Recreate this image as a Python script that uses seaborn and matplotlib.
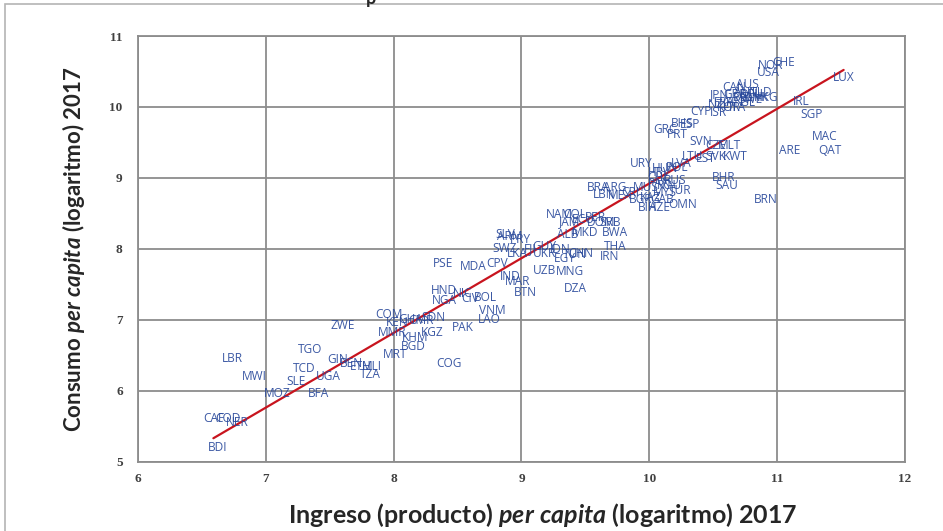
import numpy as np
import pandas as pd
import seaborn as sns
import matplotlib.pyplot as plt
from matplotlib.patches import Rectangle

# country codes, log income per capita, log consumption per capita (2017)
codes = ["CHE", "NOR", "USA", "LUX", "AUS", "CAN", "AUT", "DEU", "NLD", "DNK",
         "SWE", "BEL", "HKG", "JPN", "FIN", "ISL", "FRA", "GBR", "NZL", "KOR",
         "ITA", "IRL", "SGP", "CYP", "ISR", "BHS", "ESP", "GRC", "PRT", "SVN",
         "CZE", "MLT", "ARE", "MAC", "QAT", "LTU", "EST", "SVK", "KWT", "URY",
         "HUN", "POL", "LVA", "HRV", "BHR", "CHL", "RUS", "PAN", "SAU", "ROU",
         "TUR", "MYS", "BRN", "BRA", "ARG", "LBN", "MEX", "CRI", "MUS", "KAZ",
         "BGR", "GAB", "BIH", "AZE", "OMN", "NAM", "COL", "ECU", "PER", "DOM",
         "JAM", "SRB", "MKD", "ALB", "BWA", "THA", "IRN", "SLV", "ARM", "PRY",
         "SWZ", "FJI", "GUY", "LKA", "UKR", "IDN", "EGY", "TUN", "CHN", "PSE",
         "MDA", "CPV", "UZB", "MNG", "IND", "MAR", "DZA", "BTN", "HND", "NIC",
         "NGA", "CIV", "BOL", "VNM", "LAO", "COM", "SDN", "KEN", "GHA", "CMR",
         "ZWE", "PAK", "MMR", "KGZ", "KHM", "BGD", "MRT", "COG", "TGO", "GIN",
         "BEN", "ETH", "MLI", "LBR", "TCD", "MWI", "UGA", "TZA", "SLE", "MOZ",
         "BFA", "CAF", "COD", "NER", "BDI"]
ingreso = [11.05, 10.95, 10.93, 11.52, 10.77, 10.66, 10.75, 10.80, 10.87, 10.84,
           10.79, 10.73, 10.91, 10.55, 10.67, 10.77, 10.59, 10.67, 10.54, 10.62,
           10.69, 11.19, 11.27, 10.40, 10.54, 10.26, 10.32, 10.12, 10.22, 10.40,
           10.52, 10.63, 11.10, 11.37, 11.41, 10.34, 10.44, 10.52, 10.67, 9.94,
           10.12, 10.22, 10.25, 10.08, 10.58, 10.07, 10.20, 10.08, 10.61, 10.16,
           10.24, 10.12, 10.91, 9.60, 9.73, 9.65, 9.77, 9.85, 9.97, 10.01,
           9.93, 10.10, 9.99, 10.08, 10.26, 9.30, 9.42, 9.48, 9.58, 9.62,
           9.38, 9.69, 9.50, 9.36, 9.73, 9.73, 9.69, 8.87, 8.91, 8.99,
           8.87, 9.07, 9.18, 8.97, 9.18, 9.30, 9.34, 9.42, 9.46, 8.39,
           8.62, 8.81, 9.18, 9.38, 8.91, 8.97, 9.42, 9.03, 8.39, 8.54,
           8.40, 8.60, 8.72, 8.77, 8.75, 7.96, 8.31, 8.03, 8.13, 8.21,
           7.60, 8.54, 7.99, 8.30, 8.17, 8.15, 8.01, 8.43, 7.35, 7.56,
           7.67, 7.74, 7.83, 6.74, 7.30, 6.91, 7.49, 7.82, 7.24, 7.09,
           7.41, 6.59, 6.70, 6.78, 6.62]
consumo = [10.63, 10.58, 10.49, 10.42, 10.31, 10.27, 10.21, 10.17, 10.20, 10.13,
           10.10, 10.13, 10.14, 10.17, 10.07, 10.06, 10.07, 10.17, 10.03, 9.99,
           9.99, 10.08, 9.89, 9.93, 9.92, 9.77, 9.75, 9.68, 9.61, 9.51,
           9.46, 9.46, 9.39, 9.58, 9.39, 9.30, 9.27, 9.30, 9.30, 9.20,
           9.13, 9.15, 9.21, 9.08, 9.01, 9.00, 8.97, 8.92, 8.89, 8.89,
           8.83, 8.79, 8.70, 8.86, 8.86, 8.77, 8.76, 8.80, 8.86, 8.72,
           8.69, 8.69, 8.59, 8.58, 8.63, 8.49, 8.48, 8.42, 8.45, 8.38,
           8.38, 8.38, 8.23, 8.20, 8.23, 8.04, 7.90, 8.20, 8.17, 8.13,
           8.00, 8.00, 8.04, 7.93, 7.94, 7.99, 7.87, 7.92, 7.94, 7.79,
           7.75, 7.79, 7.70, 7.68, 7.61, 7.54, 7.45, 7.39, 7.41, 7.38,
           7.28, 7.30, 7.32, 7.13, 7.00, 7.08, 7.03, 6.97, 7.00, 6.99,
           6.92, 6.89, 6.83, 6.82, 6.76, 6.62, 6.52, 6.38, 6.59, 6.44,
           6.38, 6.35, 6.34, 6.46, 6.31, 6.20, 6.21, 6.23, 6.13, 5.97,
           5.97, 5.61, 5.61, 5.56, 5.21]

df = pd.DataFrame({"code": codes, "ingreso": ingreso, "consumo": consumo})

sns.set_style("white")
plt.rcParams["font.family"] = ["Lato", "DejaVu Sans"]
plt.rcParams["mathtext.fontset"] = "custom"
plt.rcParams["mathtext.it"] = "Lato:italic:bold"
plt.rcParams["mathtext.rm"] = "Lato:bold"

fig = plt.figure(figsize=(9.43, 5.31), dpi=100)
ax = fig.add_axes([0.1463, 0.130, 0.8134, 0.8022])

# outer chart frame (only top and left edges are visible in the crop)
fig.patches.append(Rectangle((0.0055, -0.2), 1.2, 1.1925, transform=fig.transFigure,
                             fill=False, edgecolor="#b4b4b4", linewidth=1.2))
fig.text(0.393, 1.003, "p", fontsize=13, fontweight="bold", ha="center", va="center")

sns.regplot(data=df, x="ingreso", y="consumo", scatter=False, ci=None,
            truncate=True, color="#c8141e", line_kws={"linewidth": 1.6}, ax=ax)

for c, xv, yv in zip(codes, ingreso, consumo):
    ax.text(xv, yv, c, fontsize=8.6, color="#27479a", ha="center", va="center",
            family=["Open Sans", "DejaVu Sans"], alpha=0.9)

ax.set_xlim(6, 12)
ax.set_ylim(5, 11)
ax.set_xticks(range(6, 13))
ax.set_yticks(range(5, 12))
ax.grid(True, color="#8c8c8c", linewidth=1.3)
for s in ax.spines.values():
    s.set_color("#8c8c8c")
    s.set_linewidth(1.3)
ax.tick_params(axis="both", direction="out", length=5, width=1.2, color="#8c8c8c",
               labelsize=9.5, labelcolor="#404040")
for lab in ax.get_xticklabels() + ax.get_yticklabels():
    lab.set_family(["Liberation Serif"])
    lab.set_fontweight("bold")
ax.tick_params(axis="x", pad=3)
ax.tick_params(axis="y", pad=6)

ax.set_xlabel(r"Ingreso (producto) $per\ capita$ (logaritmo) 2017",
              fontsize=18, fontweight="bold")
ax.set_ylabel(r"Consumo $per\ capita$ (logaritmo) 2017",
              fontsize=16, fontweight="bold", labelpad=16)
ax.xaxis.set_label_coords(0.528, -0.092)

fig.savefig("out.png", dpi=100)
